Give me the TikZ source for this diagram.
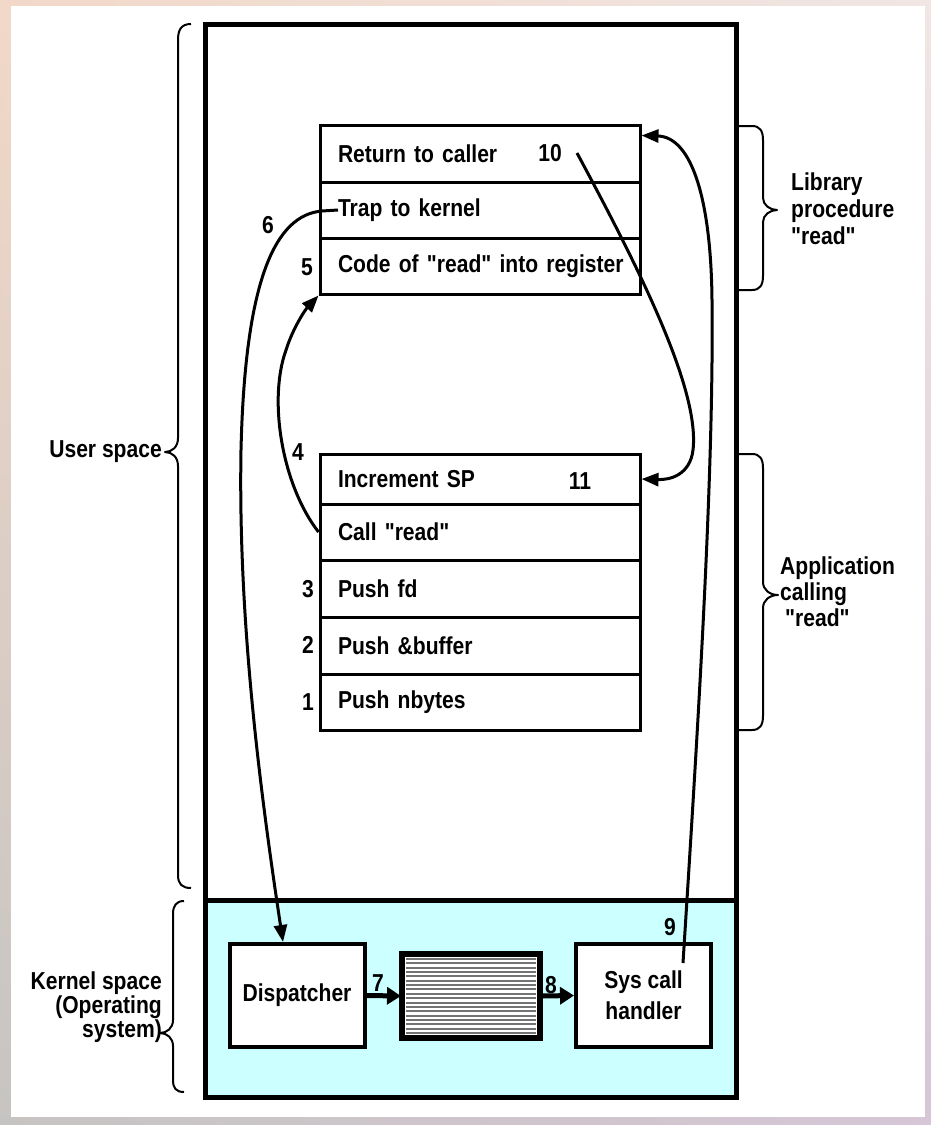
\documentclass[tikz,border=0pt]{standalone}
\usepackage{fontspec}
\setmainfont[FakeStretch=0.86, Ligatures=TeXOff]{Liberation Sans}
\usetikzlibrary{arrows.meta,calc,shadings}
\definecolor{kern}{RGB}{204,255,255}
\definecolor{bgTL}{RGB}{242,216,200}
\definecolor{bgTR}{RGB}{240,230,228}
\definecolor{bgBL}{RGB}{198,196,194}
\definecolor{bgBR}{RGB}{214,198,214}
\begin{document}
\begin{tikzpicture}[x=1pt,y=-1pt,
  lbl/.style={font=\fontsize{24.5}{27}\selectfont\bfseries, inner sep=0pt},
  row/.style={draw, line width=3pt, minimum width=320pt, text width=284pt, inner xsep=18pt, inner ysep=0pt,
              align=left, font=\fontsize{24.5}{27}\selectfont\bfseries},
  kbox/.style={draw, fill=white, line width=4pt, minimum width=135pt, minimum height=103pt, align=center,
               font=\fontsize{24.5}{31}\selectfont\bfseries},
  flow/.style={line width=3pt, -{Triangle[length=17pt,width=13pt]}},
  thick flow/.style={line width=5pt, -{Triangle[length=14pt,width=17pt]}},
  brace/.style={line width=2pt, line join=round}
]
\useasboundingbox (0,0) rectangle (931,1125);
% background
\shade[upper left=bgTL, upper right=bgTR, lower left=bgBL, lower right=bgBR] (0,0) rectangle (931,1125);
\fill[white] (11,6) rectangle (925,1117);

% user / kernel regions
\draw[line width=5pt] (205,24) rectangle (736,900);
\filldraw[fill=kern, line width=5pt] (205,900) rectangle (736,1097);

% library procedure
\node[row, minimum height=57pt] (ret)  at (480,153.5) {Return to caller};
\node[row, minimum height=56pt] (trap) at (480,210) {Trap to kernel};
\node[row, minimum height=56pt] (code) at (480,266) {\mbox{Code of "read" into register}};

% application
\node[row, minimum height=50pt] (inc)  at (480,479) {Increment SP};
\node[row, minimum height=56pt] (call) at (480,532) {Call "read"};
\node[row, minimum height=57pt] (pfd)  at (480,588.5) {Push fd};
\node[row, minimum height=57pt] (pbuf) at (480,645.5) {Push \&buffer};
\node[row, minimum height=56pt] (pnb)  at (480,702) {Push nbytes};

% kernel boxes
\node[kbox] (disp) at (297,995.5) {Dispatcher};
\node[draw, fill=white, line width=4pt, minimum width=136pt, minimum height=82pt] (queue) at (471,996) {};
\foreach \i in {0,...,17} {
  \draw[black!55, line width=2pt] (406,{959+\i*4.35}) -- (536,{959+\i*4.35});
}
\draw[line width=4pt] (queue.south west) rectangle (queue.north east);
\node[kbox] (sys) at (643.5,995.5) {Sys call\\handler};

% numbers
\node[lbl] (n1)  at (308,702) {1};
\node[lbl] (n2)  at (308,645) {2};
\node[lbl] (n3)  at (308,589) {3};
\node[lbl] (n4)  at (298,452) {4};
\node[lbl] (n5)  at (307,267) {5};
\node[lbl] (n6)  at (268,225) {6};
\node[lbl] (n7)  at (378,983) {7};
\node[lbl] (n8)  at (551,985) {8};
\node[lbl] (n9)  at (670,927) {9};
\node[lbl] (n10) at (550,153) {10};
\node[lbl] (n11) at (580,481) {11};

% connectors
\coordinate (c6) at (338,210);
\coordinate (c9) at (683,963);
\coordinate (c10) at (577,153);
\draw[flow] (call.west) .. controls (282,485) and (268,400) .. (286,350)
            .. controls (293,328) and (305,310) .. (code.south west);
\draw[flow] (c6) -- (322,211) .. controls (275,215) and (245,280) .. (241,450)
            .. controls (238,620) and (260,790) .. ([xshift=-14pt]disp.north);
\draw[thick flow] (disp.east) -- (queue.west);
\draw[thick flow] (queue.east) -- (sys.west);
\draw[flow] (c9) .. controls (697,740) and (714,480) .. (712,300)
            .. controls (711,200) and (692,137) .. ([yshift=18pt]ret.east);
\draw[flow] (c10) .. controls (640,270) and (700,390) .. (693,450)
            .. controls (690,475) and (670,480) .. (inc.east);

% left braces
\draw[brace] (191,24) .. controls (181,24) and (178,30) .. (178,40) -- (178,438)
   .. controls (178,447) and (172,452) .. (165,452)
   .. controls (172,452) and (178,457) .. (178,466) -- (178,875)
   .. controls (178,884) and (182,888) .. (191,888);
\draw[brace] (184,901) .. controls (176,901) and (173,906) .. (173,914) -- (173,1020)
   .. controls (173,1028) and (167,1033) .. (160,1033)
   .. controls (167,1033) and (173,1038) .. (173,1046) -- (173,1080)
   .. controls (173,1088) and (176,1092) .. (184,1092);
\node[lbl, anchor=east] (ulab) at (162,452) {User space};
\node[lbl, anchor=east, align=right, font=\fontsize{24.5}{24}\selectfont\bfseries] (klab) at (162,1007)
   {Kernel space\\(Operating\\system)};

% right braces
\draw[brace] (738,126) -- (752,126) .. controls (760,126) and (763,131) .. (763,140) -- (763,198)
   .. controls (763,205) and (770,210) .. (777,210)
   .. controls (770,210) and (763,215) .. (763,222) -- (763,276)
   .. controls (763,285) and (760,290) .. (752,290) -- (738,290);
\draw[brace] (738,454) -- (752,454) .. controls (760,454) and (763,459) .. (763,468) -- (763,582)
   .. controls (763,590) and (770,595) .. (778,595)
   .. controls (770,595) and (763,600) .. (763,608) -- (763,716)
   .. controls (763,725) and (760,730) .. (752,730) -- (738,730);
\node[lbl, anchor=west, align=left] (liblab) at (791,209) {Library\\procedure\\"read"};
\node[lbl, anchor=west, align=left, font=\fontsize{24.5}{26}\selectfont\bfseries] (applab) at (780,592)
   {Application\\calling\\\hspace*{5pt}"read"};
\end{tikzpicture}
\end{document}
